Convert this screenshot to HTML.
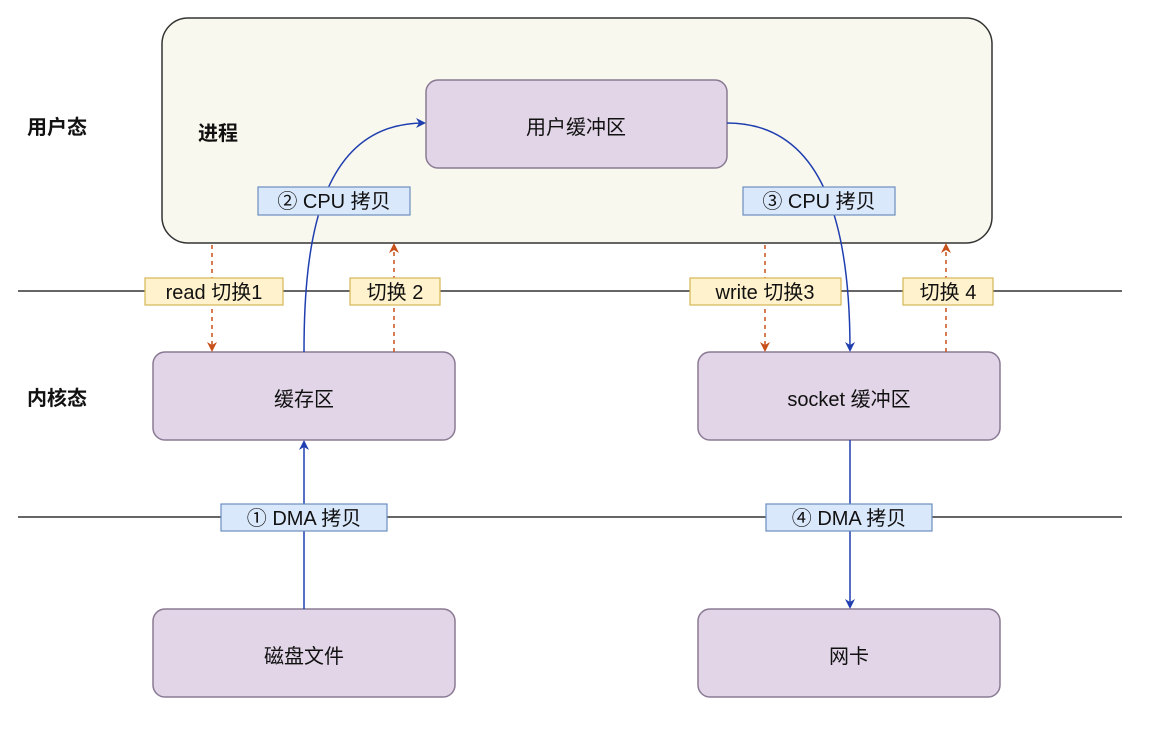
<!DOCTYPE html>
<html><head><meta charset="utf-8"><style>
body{margin:0;background:#fff}
text{font-family:"Liberation Sans","Noto Sans CJK SC",sans-serif;font-size:20px;fill:#111}
</style></head><body>
<svg width="1171" height="730" viewBox="0 0 1171 730" xmlns="http://www.w3.org/2000/svg">
<defs>
<marker id="b" markerWidth="10" markerHeight="10" refX="8" refY="5" orient="auto" markerUnits="userSpaceOnUse"><path d="M0,0 L10,5 L0,10 L3,5z" fill="#1f3fb0"/></marker>
<marker id="o" markerWidth="10" markerHeight="10" refX="8" refY="5" orient="auto" markerUnits="userSpaceOnUse"><path d="M0,0 L10,5 L0,10 L3,5z" fill="#c8501a"/></marker>
</defs>
<rect x="162" y="18" width="830" height="225" rx="26" fill="#f9f8ee" stroke="#333" stroke-width="1.5"/>
<line x1="18" y1="291" x2="1122" y2="291" stroke="#333" stroke-width="1.5"/>
<line x1="18" y1="517" x2="1122" y2="517" stroke="#333" stroke-width="1.5"/>
<g fill="#e1d5e7" stroke="#8a7a94" stroke-width="1.5">
<rect x="426" y="80" width="301" height="88" rx="12"/>
<rect x="153" y="352" width="302" height="88" rx="12"/>
<rect x="698" y="352" width="302" height="88" rx="12"/>
<rect x="153" y="609" width="302" height="88" rx="12"/>
<rect x="698" y="609" width="302" height="88" rx="12"/>
</g>
<g stroke="#1f3fb0" stroke-width="1.5" fill="none">
<path d="M304,609 L304,442" marker-end="url(#b)"/>
<path d="M304,352 C304,240 320,123 424,123" marker-end="url(#b)"/>
<path d="M727,123 C830,123 850,240 850,350" marker-end="url(#b)"/>
<path d="M850,440 L850,607" marker-end="url(#b)"/>
</g>
<g stroke="#c8501a" stroke-width="1.5" fill="none" stroke-dasharray="4,4">
<path d="M212,245 L212,350" marker-end="url(#o)"/>
<path d="M394,352 L394,245" marker-end="url(#o)"/>
<path d="M765,245 L765,350" marker-end="url(#o)"/>
<path d="M946,352 L946,245" marker-end="url(#o)"/>
</g>
<g fill="#dae8fc" stroke="#6c8ebf" stroke-width="1.2">
<rect x="258" y="187" width="152" height="28"/>
<rect x="743" y="187" width="152" height="28"/>
<rect x="221" y="504" width="166" height="27"/>
<rect x="766" y="504" width="166" height="27"/>
</g>
<g fill="#fff2cc" stroke="#d6b656" stroke-width="1.2">
<rect x="145" y="278" width="138" height="27"/>
<rect x="350" y="278" width="90" height="27"/>
<rect x="690" y="278" width="151" height="27"/>
<rect x="903" y="278" width="90" height="27"/>
</g>
<g text-anchor="middle">
<text x="334" y="208">② CPU 拷贝</text>
<text x="819" y="208">③ CPU 拷贝</text>
<text x="304" y="525">① DMA 拷贝</text>
<text x="849" y="525">④ DMA 拷贝</text>
<text x="214" y="299">read 切换1</text>
<text x="395" y="299">切换 2</text>
<text x="765" y="299">write 切换3</text>
<text x="948" y="299">切换 4</text>
<text x="576" y="134">用户缓冲区</text>
<text x="304" y="406">缓存区</text>
<text x="849" y="406">socket 缓冲区</text>
<text x="304" y="663">磁盘文件</text>
<text x="849" y="663">网卡</text>
</g>
<text x="27" y="134" style="font-weight:bold">用户态</text>
<text x="27" y="405" style="font-weight:bold">内核态</text>
<text x="198" y="140" style="font-weight:bold">进程</text>
</svg>
</body></html>
